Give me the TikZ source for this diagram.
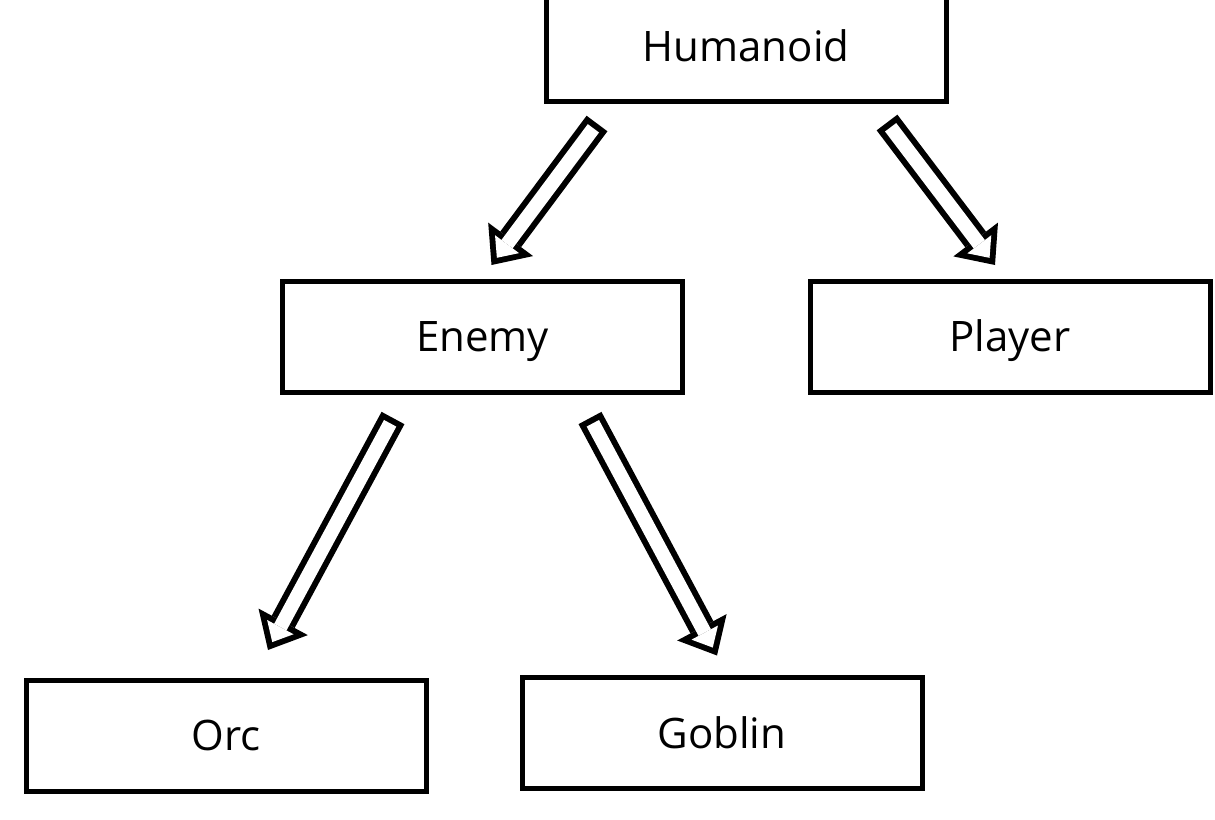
\documentclass[tikz,border=0pt]{standalone}
\usepackage{fontspec}
\setmainfont{Open Sans}
\usetikzlibrary{arrows.meta,calc}

\begin{document}
\begin{tikzpicture}[x=1pt,y=-1pt,
   box/.style={draw, line width=5pt, minimum width=400pt, minimum height=111pt,
      inner sep=0pt, outer sep=0pt, text height=30pt, text depth=0pt,
      font=\fontsize{42}{50}\selectfont},
   hollow/.style={draw=black, line width=26pt,
      -{Triangle[length=32pt,width=56pt,line width=0pt]},
      postaction={draw=white, line width=14pt, shorten <=6pt, shorten >=9pt,
         -{Triangle[length=17pt,width=30pt,line width=0pt]}}}]
   \useasboundingbox (0,0) rectangle (1215,819);
   \node[box] (hum) at (746,46) {Humanoid};
   \node[box] (ene) at (482.5,336.5) {Enemy};
   \node[box] (pla) at (1010,336.5) {Player};
   \node[box] (orc) at (226,735.5) {Orc};
   \node[box] (gob) at (722,733) {Goblin};
   \draw[hollow] ($(hum.south)+(-149,22)$) -- ($(ene.north)+(9,-16)$);
   \draw[hollow] ($(hum.south)+(141,21)$) -- ($(pla.north)+(-15,-16)$);
   \draw[hollow] ($(ene.south)+(-89.5,26)$) -- ($(orc.north)+(42,-30)$);
   \draw[hollow] ($(ene.south)+(107.5,26)$) -- ($(gob.north)+(-5,-22)$);
\end{tikzpicture}
\end{document}
